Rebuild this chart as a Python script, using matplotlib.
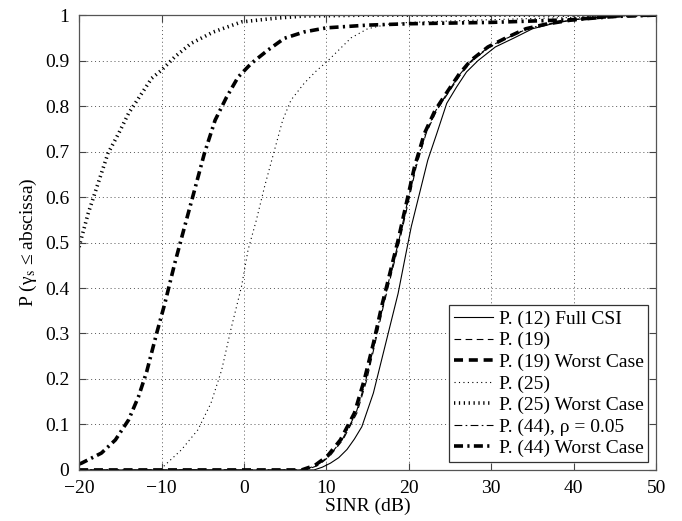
import matplotlib
matplotlib.use("Agg")
from matplotlib import pyplot as plt

# SINR (dB) and CDF values
x_full = [-20, 8.5, 9.5, 10.5, 11.5, 12.5, 13.4, 14.3, 15.7, 16.7, 17.7, 18.7, 19.5, 20.3, 21.3,
          22.3, 23.4, 24.6, 25.8, 27.0, 28.4, 30.5, 32.8, 35.0, 37.2, 40, 43, 46, 50]
y_full = [0, 0, 0.006, 0.015, 0.027, 0.045, 0.068, 0.095, 0.169, 0.242, 0.315, 0.388, 0.462,
          0.535, 0.608, 0.681, 0.74, 0.806, 0.842, 0.875, 0.9, 0.93, 0.95, 0.97, 0.98, 0.99,
          0.995, 0.999, 1.0]

x_p19 = [-20, 7.5, 9, 10.4, 12.0, 13.7, 14.9, 15.9, 16.9, 17.9, 18.9, 19.9, 20.9, 22.1, 23.4,
         25.0, 26.3, 27.7, 29.8, 32.0, 34.4, 36.8, 40, 43, 46, 50]
y_p19 = [0, 0, 0.01, 0.03, 0.066, 0.125, 0.198, 0.278, 0.359, 0.432, 0.505, 0.586, 0.667, 0.74,
         0.791, 0.835, 0.87, 0.9, 0.93, 0.95, 0.97, 0.98, 0.99, 0.995, 0.999, 1.0]

x_p19wc = [-20, 7, 8.6, 10.1, 11.7, 13.4, 14.6, 15.7, 16.7, 17.7, 18.7, 19.7, 20.7, 21.9, 23.2,
           24.8, 26.1, 27.5, 29.6, 31.8, 34.2, 36.6, 40, 43, 46, 50]
y_p19wc = [0, 0, 0.01, 0.03, 0.066, 0.125, 0.198, 0.278, 0.359, 0.432, 0.505, 0.586, 0.667, 0.74,
           0.791, 0.835, 0.87, 0.9, 0.93, 0.95, 0.97, 0.98, 0.99, 0.995, 0.999, 1.0]

x_p25 = [-10, -9.8, -7.6, -5.6, -4.0, -2.7, -1.6, -0.3, 0.5, 1.5, 2.5, 3.7, 4.7, 5.7, 7.3, 8.7,
         10.2, 11.6, 13.0, 15.0, 17.5, 20, 25, 30, 40, 50]
y_p25 = [0, 0.007, 0.044, 0.088, 0.147, 0.22, 0.308, 0.403, 0.484, 0.549, 0.623, 0.703, 0.769,
         0.813, 0.85, 0.876, 0.9, 0.925, 0.95, 0.97, 0.98, 0.984, 0.987, 0.99, 0.995, 1.0]

x_p25wc = [-20, -19.9, -18.9, -17.7, -16.5, -15.2, -14.0, -12.4, -11.2, -10.0, -8.4, -6.4, -3.7,
           -0.3, 3.7, 7.3, 15, 30, 50]
y_p25wc = [0.49, 0.498, 0.564, 0.63, 0.696, 0.74, 0.784, 0.828, 0.861, 0.879, 0.908, 0.938,
           0.963, 0.985, 0.993, 0.998, 1.0, 1.0, 1.0]

x_p44 = [-20, 7.2, 8.8, 10.3, 11.9, 13.6, 14.8, 15.8, 16.8, 17.8, 18.8, 19.8, 20.8, 22.0, 23.3,
         24.9, 26.2, 27.6, 29.7, 31.9, 34.3, 36.7, 40, 43, 46, 50]
y_p44 = [0, 0, 0.01, 0.03, 0.066, 0.125, 0.198, 0.278, 0.359, 0.432, 0.505, 0.586, 0.667, 0.74,
         0.791, 0.835, 0.87, 0.9, 0.93, 0.95, 0.97, 0.98, 0.99, 0.995, 0.999, 1.0]

x_p44wc = [-20, -19.7, -17.3, -15.6, -14.0, -12.8, -11.8, -10.6, -9.6, -8.4, -7.2, -6.0, -4.8,
           -3.5, -2.1, -0.7, 0.9, 2.9, 4.9, 7.3, 10, 15, 20, 30, 40, 45, 50]
y_p44wc = [0.013, 0.015, 0.037, 0.066, 0.11, 0.161, 0.216, 0.3, 0.366, 0.454, 0.535, 0.615,
           0.696, 0.769, 0.82, 0.864, 0.894, 0.923, 0.949, 0.963, 0.972, 0.978, 0.981, 0.984,
           0.99, 0.997, 1.0]

labels = ["P. (12) Full CSI", "P. (19)", "P. (19) Worst Case", "P. (25)",
          "P. (25) Worst Case", "P. (44), \u03c1 = 0.05", "P. (44) Worst Case"]

plt.rcParams["font.family"] = ["Liberation Serif", "DejaVu Serif"]
plt.rcParams["mathtext.fontset"] = "stix"

fig = plt.figure(figsize=(6.82, 5.21), dpi=100)
ax = fig.add_axes([0.116, 0.098, 0.846, 0.873])

thin = 0.8
thick = 2.6
ax.plot(x_full, y_full, color="k", lw=thin, ls="-", label=labels[0])
ax.plot(x_p19, y_p19, color="k", lw=thin, ls=(0, (6, 4)), label=labels[1])
ax.plot(x_p19wc, y_p19wc, color="k", lw=thick, ls=(0, (2.5, 1.6)), label=labels[2])
ax.plot(x_p25, y_p25, color="k", lw=thin, ls=(0, (1, 3)), label=labels[3])
ax.plot(x_p25wc, y_p25wc, color="k", lw=thick, ls=(0, (0.35, 1.0)),
        dash_capstyle="butt", label=labels[4])
ax.plot(x_p44, y_p44, color="k", lw=thin, ls=(0, (7, 3, 1.5, 3)), label=labels[5])
ax.plot(x_p44wc, y_p44wc, color="k", lw=thick, ls=(0, (2.5, 1.2, 0.6, 1.2)),
        dash_capstyle="butt", label=labels[6])

ax.set_xlim(-20, 50)
ax.set_ylim(0, 1)
ax.set_xticks(range(-20, 51, 10))
ax.set_xticklabels(["\u221220", "\u221210", "0", "10", "20", "30", "40", "50"])
ax.set_yticks([i / 10 for i in range(11)])
ax.set_yticklabels(["0", "0.1", "0.2", "0.3", "0.4", "0.5", "0.6", "0.7", "0.8", "0.9", "1"])

ax.grid(True, ls=(0, (1, 3)), color="#555555", lw=0.7)
ax.tick_params(direction="in", top=True, right=True, labelsize=14, length=5, color="#444444")
ax.tick_params(axis="x", pad=7)
ax.tick_params(axis="y", pad=7)
for s in ax.spines.values():
    s.set_color("#555555")
    s.set_linewidth(0.9)

ax.set_xlabel("SINR (dB)", fontsize=14, labelpad=1)
ax.set_ylabel("P (\u03b3$_{\\rm s}$ \u2264 abscissa)", fontsize=14, labelpad=4)

leg = ax.legend(loc="lower right", fontsize=14, fancybox=False, edgecolor="#333333",
                framealpha=1, handlelength=2.0, handletextpad=0.3, borderpad=0.25,
                labelspacing=0.2, borderaxespad=0.4)
leg.get_frame().set_linewidth(0.9)

fig.savefig("out.png", dpi=100)
